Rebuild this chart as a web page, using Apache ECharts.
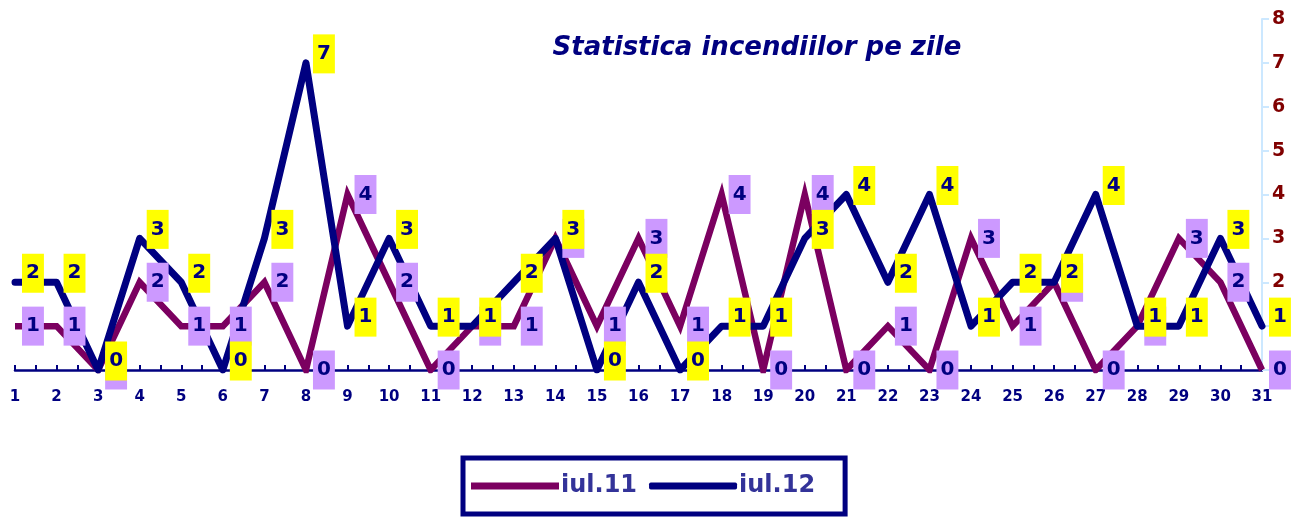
<!DOCTYPE html>
<html>
<head>
<meta charset="utf-8">
<script src="https://cdn.jsdelivr.net/npm/echarts@6/dist/echarts.min.js"></script>
<style>
  html, body { margin: 0; padding: 0; background: #fff; }
  #chart { width: 1293px; height: 518px; }
</style>
</head>
<body>
<div id="chart"></div>
<script>
// zilele lunii
const days = [1,2,3,4,5,6,7,8,9,10,11,12,13,14,15,16,17,18,19,20,21,22,23,24,25,26,27,28,29,30,31];
// incendii pe zi
const iul11 = [1,1,0,2,1,1,2,0,4,2,0,1,1,3,1,3,1,4,0,4,0,1,0,3,1,2,0,1,3,2,0];
const iul12 = [2,2,0,3,2,0,3,7,1,3,1,1,2,3,0,2,0,1,1,3,4,2,4,1,2,2,4,1,1,3,1];
const yTicks = [0,1,2,3,4,5,6,7,8];

const myChart = echarts.init(document.getElementById('chart'));

function pairs(vals){
	return days.map(function(d, i){ return [d, vals[i]]; });
}

const labelBase = {
	show: true,
	position: 'right',
	distance: 7,
	color: '#000080',
	fontFamily: 'DejaVu Sans',
	fontWeight: 'bold',
	fontSize: 20,
	padding: [10, 4, 9, 4],
	formatter: function(p){ return p.value[1]; }
};

// serie doar pentru etichete, desenata peste linii
function labelSeries(name, vals, bg, dy, z){
	return {
		name: name,
		type: 'line',
		data: pairs(vals),
		symbol: 'circle',
		symbolSize: 0,
		showSymbol: true,
		silent: true,
		z: z,
		lineStyle: { opacity: 0, width: 0 },
		itemStyle: { color: bg },
		label: Object.assign({}, labelBase, { backgroundColor: bg, offset: [0, dy] })
	};
}

const option = {
	animation: false,
	backgroundColor: '#fff',
	title: {
		text: 'Statistica incendiilor pe zile',
		left: 752,
		top: 30,
		textAlign: 'center',
		textStyle: {
			color: '#000080',
			fontFamily: 'DejaVu Sans',
			fontStyle: 'italic',
			fontWeight: 'bold',
			fontSize: 26
		}
	},
	legend: {
		left: 463,
		top: 458,
		itemWidth: 88,
		itemHeight: 7,
		itemGap: 12,
		padding: [16, 30, 16, 8],
		borderColor: '#000080',
		borderWidth: 5,
		textStyle: {
			color: '#333399',
			fontFamily: 'DejaVu Sans',
			fontWeight: 'bold',
			fontSize: 24,
			padding: [0, 0, 0, -3]
		},
		data: [
			{ name: 'iul.11', icon: 'rect' },
			{ name: 'iul.12', icon: 'roundRect' }
		]
	},
	grid: {
		left: 15,
		right: 31,
		top: 19,
		bottom: 148,
		containLabel: false
	},
	xAxis: {
		type: 'value',
		min: 1,
		max: 31,
		interval: 1,
		axisLine: { show: true, lineStyle: { color: '#000080', width: 2.5 } },
		axisTick: { show: true, inside: true, length: 5, lineStyle: { color: '#000080', width: 2 } },
		minorTick: { show: true, splitNumber: 2, length: 5, lineStyle: { color: '#000080', width: 2 } },
		splitLine: { show: false },
		axisLabel: {
			color: '#000080',
			fontFamily: 'DejaVu Sans',
			fontWeight: 'bold',
			fontSize: 15,
			margin: 20
		}
	},
	yAxis: {
		type: 'value',
		position: 'right',
		min: 0,
		max: 8,
		interval: 1,
		axisLine: { show: true, lineStyle: { color: '#cce8ff', width: 2 } },
		axisTick: { show: true, length: 7, lineStyle: { color: '#cce8ff', width: 2 } },
		splitLine: { show: false },
		axisLabel: {
			color: '#800000',
			fontFamily: 'DejaVu Sans',
			fontWeight: 'bold',
			fontSize: 19,
			margin: 10,
			formatter: function(v){ return yTicks.indexOf(v) >= 0 ? v : ''; }
		}
	},
	series: [
		{
			name: 'iul.11',
			type: 'line',
			data: pairs(iul11),
			symbol: 'none',
			z: 2,
			lineStyle: { color: '#7b0060', width: 6.5, join: 'miter' },
			itemStyle: { color: '#7b0060' }
		},
		{
			name: 'iul.12',
			type: 'line',
			data: pairs(iul12),
			symbol: 'none',
			z: 3,
			lineStyle: { color: '#000080', width: 7, cap: 'round', join: 'round' },
			itemStyle: { color: '#000080' }
		},
		labelSeries('et.11', iul11, '#cc99ff', 0, 10),
		labelSeries('et.12', iul12, '#ffff00', -9, 11)
	]
};

myChart.setOption(option);
</script>
</body>
</html>
